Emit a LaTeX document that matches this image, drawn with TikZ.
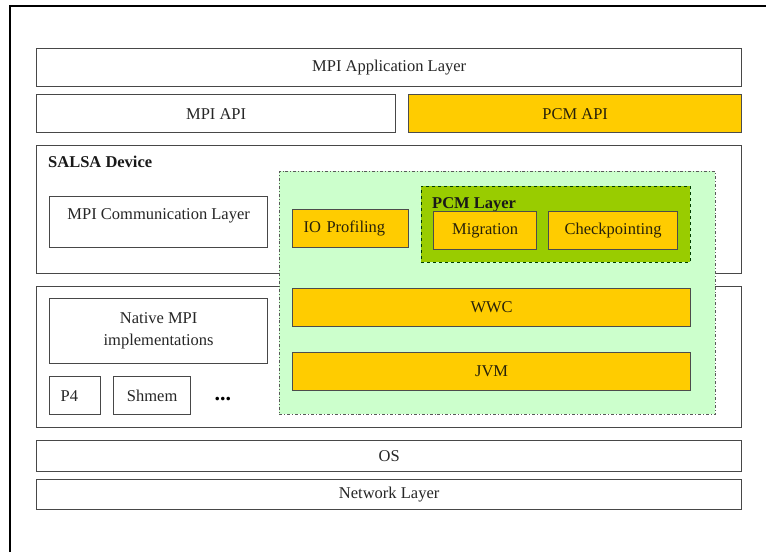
\documentclass[tikz,border=0pt]{standalone}
\usepackage{fontspec}
\setmainfont{Liberation Serif}
\usetikzlibrary{positioning}
\definecolor{pcmcol}{RGB}{255,204,0}
\definecolor{salsacol}{RGB}{204,255,204}
\definecolor{layercol}{RGB}{153,204,0}
\definecolor{edgecol}{RGB}{72,72,72}
\definecolor{textcol}{RGB}{40,34,10}

\begin{document}
\begin{tikzpicture}[
			x=1pt,
			y=-1pt,
			box/.style={
				draw=edgecol,
				line width=1.3pt,
				fill=white,
				anchor=north west,
				inner sep=0pt,
				text=black!85,
				font=\fontsize{16.5}{22}\selectfont
			},
			pcmbox/.style={
				box,
				fill=pcmcol,
				draw=black!70,
				text=textcol
			},
			region/.style={
				draw=black!65,
				line width=0.9pt,
				dash dot,
				fill=salsacol,
				anchor=north west,
				inner sep=0pt
			},
			pcmregion/.style={
				draw=black!60!green!60!black,
				line width=0.9pt,
				dashed,
				fill=layercol,
				anchor=north west,
				inner sep=0pt
			},
			title/.style={
				inner sep=0pt,
				font=\fontsize{16.5}{20}\selectfont\bfseries,
				text=black!90
			}
			]
			\useasboundingbox (0,0) rectangle (766,552);
			\draw[line width=1.3pt] (10,552) -- (10,6) -- (766,6);
			
			% Upper layers
			\node[box, minimum width=705, minimum height=38] (app) at (36,48) {MPI Application Layer};
			\node[box, minimum width=359, minimum height=38] (mpiapi) at (36,94) {MPI API};
			\node[pcmbox, minimum width=333, minimum height=38] (pcmapi) at (408,94) {PCM API};
			
			% SALSA device and native layer
			\node[box, minimum width=705, minimum height=128] (salsa) at (36,145) {};
			\node[title, below right=11pt and 12pt of salsa.north west] (salsatitle) {SALSA Device};
			\node[box, minimum width=218, minimum height=51] (comm) at (49,196) {};
			\node[inner sep=0pt, text=black!85, font=\fontsize{16.5}{20}\selectfont,
				below=12pt of comm.north] (commtext) {MPI Communication Layer};
			\node[box, minimum width=705, minimum height=141] (native) at (36,286) {};
			\node[box, minimum width=218, minimum height=65, align=center] (impl) at (49,298)
				{Native MPI\\implementations};
			\node[box, minimum width=51, minimum height=38, text width=29, align=left, inner xsep=11pt] (p4) at (49,376) {P4};
			\node[box, minimum width=77, minimum height=38] (shmem) at (113,376) {Shmem};
			\node[inner sep=0pt, font=\fontsize{22}{24}\selectfont\bfseries, right=23pt of shmem.east,
				yshift=-3pt] (dots) {...};
			
			% Java side
			\node[region, minimum width=436, minimum height=243] (java) at (279,171) {};
			\node[pcmbox, minimum width=116, minimum height=38, text width=94, align=left, inner xsep=11pt] (io) at (292,209) {IO Profiling};
			\node[pcmregion, minimum width=269, minimum height=76] (pcmlayer) at (421,186) {};
			\node[title, below right=11pt and 11pt of pcmlayer.north west] (pcmtitle) {PCM Layer};
			\node[pcmbox, minimum width=103, minimum height=38] (migr) at (433,211) {Migration};
			\node[pcmbox, minimum width=129, minimum height=38] (ckpt) at (548,211) {Checkpointing};
			\node[pcmbox, minimum width=398, minimum height=38] (wwc) at (292,288) {WWC};
			\node[pcmbox, minimum width=398, minimum height=38] (jvm) at (292,352) {JVM};
			
			% Lower layers
			\node[box, minimum width=705, minimum height=31] (os) at (36,440) {OS};
			\node[box, minimum width=705, minimum height=30] (net) at (36,479) {Network Layer};
		\end{tikzpicture}
\end{document}
